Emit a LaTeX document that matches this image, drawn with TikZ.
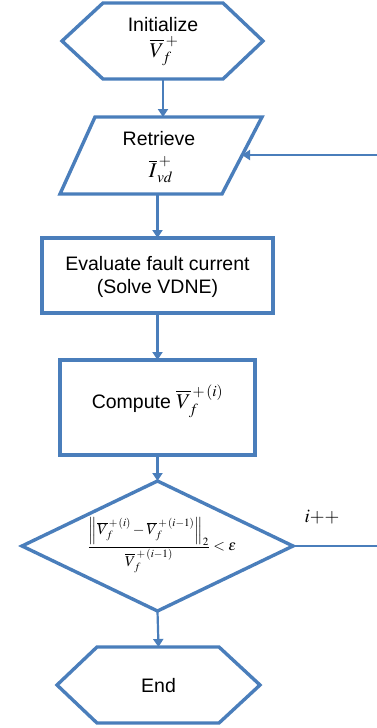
\documentclass[tikz,border=0pt]{standalone}
\usepackage{mathptmx}
\usepackage{fontspec}
\setmainfont{Liberation Sans}
\usetikzlibrary{arrows.meta}
\definecolor{ob}{HTML}{4A7EBB}
\newcommand{\mbig}[1]{{\fontsize{21}{24}\selectfont$#1$}}
\begin{document}
\begin{tikzpicture}[x=1pt,y=-1pt,
  shp/.style={draw=ob, line width=3.4pt, line join=miter, fill=white},
  lbl/.style={font=\fontsize{19.5}{23}\selectfont, align=center, inner sep=0pt},
  hold/.style={inner sep=0pt, outer sep=0pt, draw=none},
  conn/.style={draw=ob, line width=2.2pt, -{Triangle[width=10pt,length=8pt]}},
  wire/.style={draw=ob, line width=2.2pt}]
\useasboundingbox (0,0) rectangle (377,728);
% holders
\node[hold, minimum width=201pt, minimum height=76pt] (init) at (163,41) {};
\node[hold, minimum width=202pt, minimum height=77pt] (ret) at (161,155.5) {};
\node[hold, minimum width=231pt, minimum height=75pt] (eval) at (157.5,275.5) {};
\node[hold, minimum width=195pt, minimum height=95pt] (comp) at (157.5,407.5) {};
\node[hold, minimum width=271pt, minimum height=130pt] (dec) at (157.5,546) {};
\node[hold, minimum width=203pt, minimum height=76pt] (endn) at (158.5,685) {};
% shapes
\draw[shp] (62,41) -- (103,3) -- (223,3) -- (263,41) -- (223,79) -- (103,79) -- cycle;
\draw[shp] (95,117) -- (262,117) -- (222,194) -- (60,194) -- cycle;
\draw[shp] (eval.north west) rectangle (eval.south east);
\draw[shp] (comp.north west) rectangle (comp.south east);
\draw[shp] (dec.west) -- (dec.north) -- (dec.east) -- (dec.south) -- cycle;
\draw[shp] (57,685) -- (97,647) -- (219,647) -- (260,685) -- (219,723) -- (97,723) -- cycle;
% texts
\node[lbl] (tinit) at (163,25) {Initialize};
\node[inner sep=0pt] (minit) at (164,51) {\mbig{\overline{V}_{\!f}^{\,+}}};
\node[lbl] (tret) at (159,139) {Retrieve};
\node[inner sep=0pt] (mret) at (161,170) {\mbig{\overline{I}_{vd}^{\,+}}};
\node[lbl] (teval) at (157.5,277) {Evaluate fault current\\(Solve VDNE)};
\node[inner sep=0pt] (tcomp) at (157.5,401) {\fontsize{19.5}{23}\selectfont Compute \mbig{\overline{V}_{\!f}^{\,+\,(i)}}};
\node[inner sep=0pt, font=\fontsize{15}{17}\selectfont] (tdec) at (162,545)
  {$\displaystyle\frac{\left\|\overline{V}_{\!f}^{\,+\,(i)}-\overline{V}_{\!f}^{\,+\,(i-1)}\right\|_2}{\overline{V}_{\!f}^{\,+\,(i-1)}}<\varepsilon$};
\node[lbl] (tend) at (158.5,686) {End};
\node[inner sep=0pt, font=\fontsize{19}{20}\selectfont] (tinc) at (322,517) {$i{+}{+}$};
% connectors
\coordinate (retR) at (242,155);
\coordinate (fbA) at (377,155);
\coordinate (fbB) at (377,546);
\draw[conn] (init.south) -- (init.south |- ret.north);
\draw[conn] (eval.north |- ret.south) -- (eval.north);
\draw[conn] (eval.south) -- (comp.north);
\draw[conn] (comp.south) -- (dec.north);
\draw[conn] (dec.south) -- (endn.north);
\draw[wire] (dec.east) -- (fbB);
\draw[conn] (fbA) -- (retR);
\end{tikzpicture}
\end{document}
